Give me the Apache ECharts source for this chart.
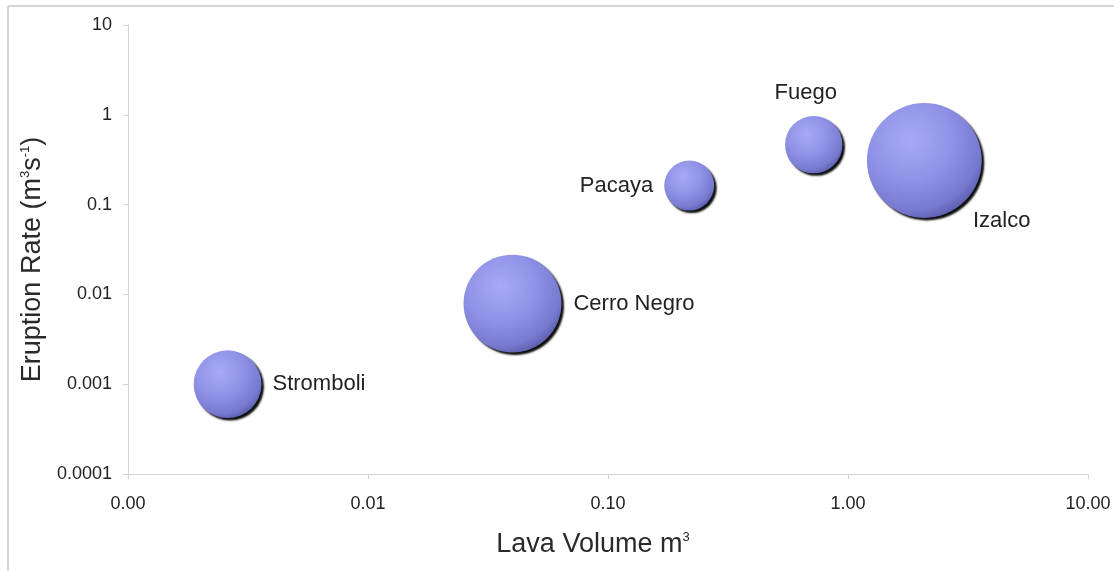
<!DOCTYPE html>
<html>
<head>
<meta charset="utf-8">
<script src="https://cdn.jsdelivr.net/npm/echarts@6/dist/echarts.min.js"></script>
<style>
html,body{margin:0;padding:0;background:#fff;}
#chart{width:1114px;height:571px;}
</style>
</head>
<body>
<div id="chart"></div>
<script>
var volcanoes = ['Stromboli', 'Cerro Negro', 'Pacaya', 'Fuego', 'Izalco'];
var lavaVolume = [0.0026, 0.040, 0.218, 0.72, 2.08];
var eruptionRate = [0.001, 0.0079, 0.163, 0.465, 0.31];
var bubbleSize = [4.6, 9.6, 2.5, 3.3, 13.2];
var xTickLabels = ['0.00', '0.01', '0.10', '1.00', '10.00'];
var yTickLabels = ['0.0001', '0.001', '0.01', '0.1', '1', '10'];

var labelCfg = {
  'Stromboli': {position: 'right', distance: 11},
  'Cerro Negro': {position: 'right', distance: 12},
  'Pacaya': {position: 'left', distance: 11},
  'Fuego': {position: 'top', distance: 12, offset: [-8, 0]},
  'Izalco': {position: [106, 118], align: 'left', verticalAlign: 'middle'}
};

var data = volcanoes.map(function (n, i) {
  var cfg = labelCfg[n];
  return {
    name: n,
    value: [lavaVolume[i], eruptionRate[i], bubbleSize[i]],
    label: Object.assign({show: true, formatter: n}, cfg)
  };
});

var chart = echarts.init(document.getElementById('chart'), null, {renderer: 'canvas'});
var axisGray = '#d4d4d4';
var supStyle = {fontSize: 13, fontFamily: 'Liberation Sans', color: '#2a2a2a', verticalAlign: 'top', padding: [0, 0, 14, 0]};
chart.setOption({
  animation: false,
  backgroundColor: '#ffffff',
  graphic: [
    {type: 'line', shape: {x1: 8, y1: 6, x2: 1114, y2: 6}, style: {stroke: '#d6d6d6', lineWidth: 2}},
    {type: 'line', shape: {x1: 8, y1: 6, x2: 8, y2: 571}, style: {stroke: '#d6d6d6', lineWidth: 2}}
  ],
  grid: {left: 128, right: 26, top: 25, bottom: 97},
  xAxis: {
    type: 'log', logBase: 10, min: 0.001, max: 10,
    name: 'Lava Volume m{sup|3}',
    nameLocation: 'middle', nameGap: 57,
    nameTextStyle: {
      fontFamily: 'Liberation Sans', fontSize: 27, color: '#2a2a2a', padding: [0, 30, 0, 0],
      rich: {sup: supStyle}
    },
    axisLine: {show: true, lineStyle: {color: axisGray, width: 1}},
    axisTick: {show: true, length: 5, lineStyle: {color: axisGray}},
    minorTick: {show: false},
    splitLine: {show: false},
    axisLabel: {
      fontFamily: 'Liberation Sans', fontSize: 18, color: '#222', margin: 21,
      formatter: function (v) { return xTickLabels[Math.round(Math.log10(v)) + 3]; }
    }
  },
  yAxis: {
    type: 'log', logBase: 10, min: 0.0001, max: 10,
    name: 'Eruption Rate (m{sup|3}s{sup|-1})',
    nameLocation: 'middle', nameGap: 67, nameRotate: 90,
    nameTextStyle: {
      fontFamily: 'Liberation Sans', fontSize: 27, color: '#2a2a2a', padding: [0, 20, 0, 0],
      rich: {sup: supStyle}
    },
    axisLine: {show: true, lineStyle: {color: axisGray, width: 1}},
    axisTick: {show: true, length: 5, lineStyle: {color: axisGray}},
    minorTick: {show: false},
    splitLine: {show: false},
    axisLabel: {
      fontFamily: 'Liberation Sans', fontSize: 18, color: '#222', margin: 16,
      formatter: function (v) { return yTickLabels[Math.round(Math.log10(v)) + 4]; }
    }
  },
  series: [{
    type: 'scatter',
    data: data,
    symbol: 'circle',
    symbolSize: function (val) { return Math.sqrt(val[2]) * 31.6; },
    label: {fontFamily: 'Liberation Sans', fontSize: 22, color: '#222'},
    itemStyle: {
      color: {
        type: 'radial', x: 0.38, y: 0.32, r: 0.72,
        colorStops: [
          {offset: 0, color: '#a8aaf6'},
          {offset: 0.5, color: '#8f92e6'},
          {offset: 0.85, color: '#777acf'},
          {offset: 1, color: '#5d60ae'}
        ]
      },
      shadowColor: 'rgba(0,0,0,0.95)',
      shadowBlur: 2,
      shadowOffsetX: 2.5,
      shadowOffsetY: 2.5,
      opacity: 1
    },
    emphasis: {disabled: true}
  }]
});
</script>
</body>
</html>
